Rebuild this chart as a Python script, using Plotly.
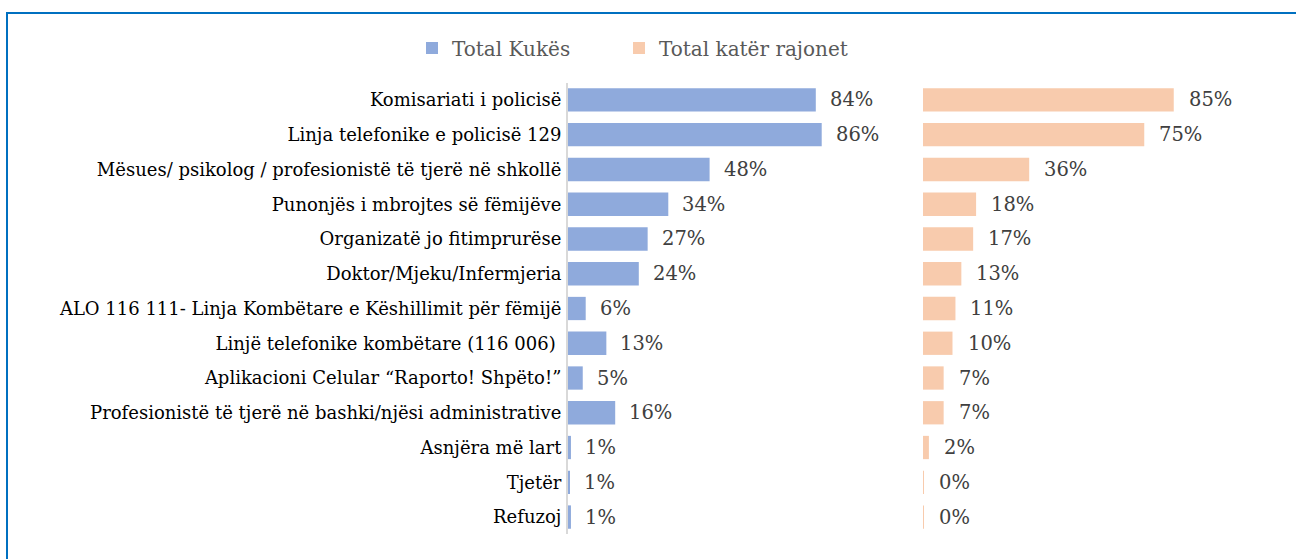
import plotly.graph_objects as go

categories = [
    "Komisariati i policisë",
    "Linja telefonike e policisë 129",
    "Mësues/ psikolog / profesionistë të tjerë në shkollë",
    "Punonjës i mbrojtes së fëmijëve",
    "Organizatë jo fitimprurëse",
    "Doktor/Mjeku/Infermjeria",
    "ALO 116 111- Linja Kombëtare e Këshillimit për fëmijë",
    "Linjë telefonike kombëtare (116 006) ",
    "Aplikacioni Celular “Raporto! Shpëto!”",
    "Profesionistë të tjerë në bashki/njësi administrative",
    "Asnjëra më lart",
    "Tjetër",
    "Refuzoj",
]
kukes = [84, 86, 48, 34, 27, 24, 6, 13, 5, 16, 1, 0.6, 1]
kater_rajonet = [85, 75, 36, 18, 17, 13, 11, 10, 7, 7, 2, 0.3, 0.3]
series_names = ["Total Kukës", "Total katër rajonet"]

W, H = 1296, 559
BLUE = "#8FAADC"
ORANGE = "#F8CBAD"
FONT = "DejaVu Serif"

fig = go.Figure()
fig.add_trace(go.Bar(y=categories, x=kukes, orientation="h", name=series_names[0],
                     marker=dict(color=BLUE, line=dict(width=0)), xaxis="x", yaxis="y",
                     legend="legend"))
fig.add_trace(go.Bar(y=categories, x=kater_rajonet, orientation="h", name=series_names[1],
                     marker=dict(color=ORANGE, line=dict(width=0)), xaxis="x2", yaxis="y",
                     legend="legend2"))

annotations = []
for cat, v in zip(categories, kukes):
    annotations.append(dict(x=v, y=cat, xref="x", yref="y", text=f"{v:.0f}%", showarrow=False,
                            xanchor="left", xshift=12, font=dict(family=FONT, size=19.5, color="#404040")))
for cat, v in zip(categories, kater_rajonet):
    annotations.append(dict(x=v, y=cat, xref="x2", yref="y", text=f"{v:.0f}%", showarrow=False,
                            xanchor="left", xshift=13, font=dict(family=FONT, size=19.5, color="#404040")))

x0 = 568 / W
xmid = 923 / W
scale = 2.95  # px per percent
legend_font = dict(family=FONT, size=20, color="#595959")
fig.update_layout(
    width=W, height=H,
    margin=dict(l=0, r=0, t=0, b=0),
    paper_bgcolor="white", plot_bgcolor="white",
    bargap=0.33,
    showlegend=True,
    legend=dict(orientation="h", x=412 / W, xanchor="left", y=1 - 48 / H, yanchor="middle",
                font=legend_font, bgcolor="rgba(0,0,0,0)"),
    legend2=dict(orientation="h", x=619 / W, xanchor="left", y=1 - 48 / H, yanchor="middle",
                 font=legend_font, bgcolor="rgba(0,0,0,0)"),
    xaxis=dict(domain=[x0, xmid], range=[0, (923 - 568) / scale], visible=False, fixedrange=True),
    xaxis2=dict(domain=[xmid, 1.0], range=[0, (W - 923) / scale], visible=False, anchor="y"),
    yaxis=dict(domain=[1 - 534.4 / H, 1 - 82.6 / H], autorange="reversed", anchor="x",
               showline=True, linecolor="#D9D9D9", linewidth=2, ticks="", showgrid=False,
               ticklabelstandoff=1,
               tickfont=dict(family=FONT, size=18, color="#000000")),
    annotations=annotations,
    shapes=[dict(type="rect", xref="paper", yref="paper", x0=7 / W, x1=1.3, y0=-0.5, y1=1 - 13 / H,
                 line=dict(color="#0070C0", width=2), fillcolor="rgba(0,0,0,0)", layer="below")],
)

fig.write_html("out.html", config={"displayModeBar": False},
               post_script="document.body.style.margin='0';document.body.style.overflow='hidden';")
